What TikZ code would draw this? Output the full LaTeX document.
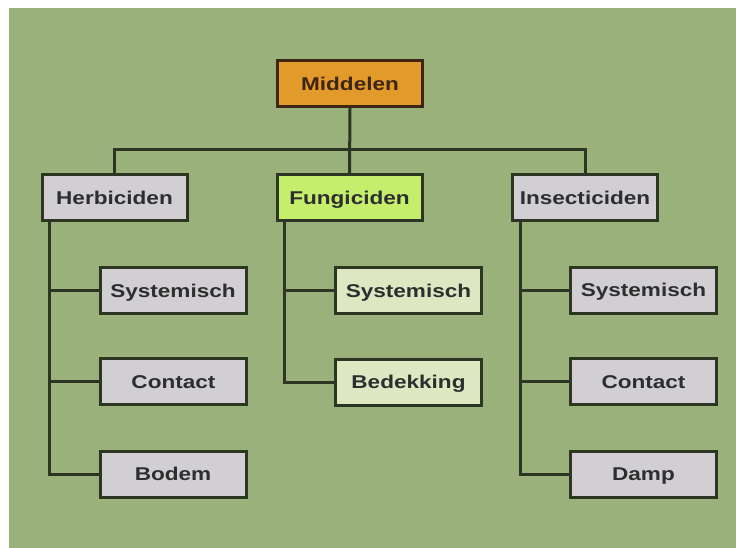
\documentclass[tikz,border=0pt]{standalone}
\usepackage{fontspec}
\newfontfamily\lab[FakeStretch=1.22]{Liberation Sans}
\definecolor{bgwhite}{HTML}{FFFFFF}
\definecolor{bggreen}{HTML}{9BB17C}
\definecolor{linec}{HTML}{2C3622}
\definecolor{grayfill}{HTML}{D2CFD4}
\definecolor{limefill}{HTML}{C4EE6C}
\definecolor{palefill}{HTML}{DDE7C2}
\definecolor{orangefill}{HTML}{E29B2A}
\definecolor{brownc}{HTML}{3E2512}
\definecolor{textc}{HTML}{2E2E2E}
\begin{document}
\begin{tikzpicture}[x=1pt,y=-1pt,
  box/.style={draw=linec, line width=3pt, minimum width=145pt, minimum height=46pt,
    inner sep=0pt, text height=13.3pt, text depth=0pt,
    font=\lab\bfseries\fontsize{18.5}{20}\selectfont, text=textc},
  graybox/.style={box, fill=grayfill},
  conn/.style={draw=linec, line width=3pt}]
\useasboundingbox (0,0) rectangle (736,548);
\fill[bgwhite] (0,0) rectangle (736,548);
\fill[bggreen] (9,8) rectangle (736,548);

% top
\node[box, fill=orangefill, draw=brownc, text=brownc] (mid) at (350,83.5) {Middelen};
% level 1
\node[graybox] (herb) at (114.5,198) {Herbiciden};
\node[box, fill=limefill] (fung) at (349.5,198) {Fungiciden};
\node[graybox] (ins) at (585,198) {Insecticiden};
% level 2
\node[graybox, minimum width=146pt] (hs) at (173,290.5) {Systemisch};
\node[graybox, minimum width=146pt] (hc) at (173.5,381.5) {Contact};
\node[graybox, minimum width=146pt] (hb) at (173,474) {Bodem};
\node[box, fill=palefill, minimum width=146pt] (fs) at (408.5,290.5) {Systemisch};
\node[box, fill=palefill, minimum width=146pt] (fb) at (408.5,382) {Bedekking};
\node[graybox, minimum width=146pt] (is) at (643.5,290) {Systemisch};
\node[graybox, minimum width=146pt] (ic) at (643.5,381.5) {Contact};
\node[graybox, minimum width=146pt] (id) at (643.5,474) {Damp};

% bus
\coordinate (busL) at (114.5,150);
\coordinate (busR) at (585,150);
\draw[conn] (mid.south) -- (fung.north);
\draw[conn] (herb.north) -- (busL) -- (busR) -- (ins.north);

% trunks
\coordinate (ht) at ([xshift=9pt]herb.south west);
\coordinate (ft) at ([xshift=9pt]fung.south west);
\coordinate (it) at ([xshift=9pt]ins.south west);
\draw[conn] (ht) |- (hb.west);
\draw[conn] (ht |- hs.west) -- (hs.west);
\draw[conn] (ht |- hc.west) -- (hc.west);
\draw[conn] (ft) |- (fb.west);
\draw[conn] (ft |- fs.west) -- (fs.west);
\draw[conn] (it) |- (id.west);
\draw[conn] (it |- is.west) -- (is.west);
\draw[conn] (it |- ic.west) -- (ic.west);
\end{tikzpicture}
\end{document}
